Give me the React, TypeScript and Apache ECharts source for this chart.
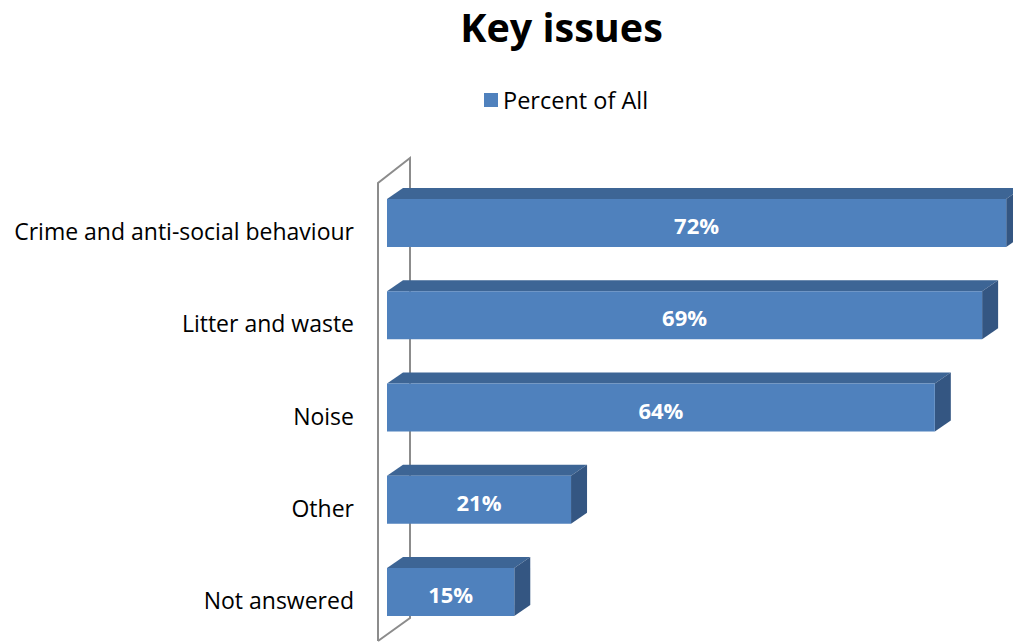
import React, { useEffect, useRef } from "react";
import * as echarts from "echarts";

const categories = [
  "Crime and anti-social behaviour",
  "Litter and waste",
  "Noise",
  "Other",
  "Not answered",
];
const percentOfAll = [72.0, 69.2, 63.7, 21.4, 14.8];
const seriesName = "Percent of All";
const titleText = "Key issues";

const FONT = "'Open Sans', sans-serif";

export default function App() {
  const ref = useRef<HTMLDivElement>(null);

  useEffect(() => {
    if (!ref.current) return;
    const chart = echarts.init(ref.current, null, { renderer: "svg" });
    const DX = 16;
    const DY = -11;
    const HALF = 24;

    chart.setOption({
      animation: false,
      backgroundColor: "#ffffff",
      title: {
        text: titleText,
        left: 561.5,
        top: 7,
        textAlign: "center",
        padding: 0,
        textStyle: {
          fontSize: 39.5,
          fontWeight: "bold",
          color: "#000000",
          fontFamily: FONT,
        },
      },
      legend: {
        data: [seriesName],
        left: 484,
        top: 88,
        padding: 0,
        itemWidth: 14,
        itemHeight: 14,
        icon: "rect",
        textStyle: { fontSize: 23.5, color: "#000000", fontFamily: FONT },
      },
      grid: {
        left: 387,
        top: 176.9,
        width: 619.2,
        height: 461.25,
        containLabel: false,
      },
      xAxis: { type: "value", min: 0, max: 72, show: false },
      yAxis: {
        type: "category",
        data: categories,
        inverse: true,
        axisLine: { show: false },
        axisTick: { show: false },
        splitLine: { show: false },
        axisLabel: {
          margin: 33,
          fontSize: 23,
          color: "#000000",
          fontFamily: FONT,
          verticalAlign: "top",
          lineHeight: 16,
        },
      },
      graphic: [
        {
          type: "polyline",
          z: 0,
          silent: true,
          shape: {
            points: [
              [378, 641],
              [378, 183],
              [410, 158],
              [410, 618],
              [378, 641],
            ],
          },
          style: { stroke: "#8c8c8c", lineWidth: 2, fill: null },
        },
      ],
      series: [
        {
          type: "custom",
          name: "depth",
          silent: true,
          z: 3,
          clip: false,
          data: percentOfAll.map((v, i) => [v, i]),
          encode: { x: 0, y: 1 },
          renderItem: (params: any, api: any) => {
            const p0 = api.coord([0, api.value(1)]);
            const p1 = api.coord([api.value(0), api.value(1)]);
            const cy = p0[1];
            const x0 = p0[0];
            const x1 = p1[0];
            const top = cy - HALF;
            const bot = cy + HALF;
            return {
              type: "group",
              children: [
                {
                  type: "polygon",
                  shape: {
                    points: [
                      [x0, top],
                      [x1, top],
                      [x1 + DX, top + DY],
                      [x0 + DX, top + DY],
                    ],
                  },
                  style: { fill: "#3d6595" },
                },
                {
                  type: "polygon",
                  shape: {
                    points: [
                      [x1, top],
                      [x1 + DX, top + DY],
                      [x1 + DX, bot + DY],
                      [x1, bot],
                    ],
                  },
                  style: { fill: "#345682" },
                },
              ],
            };
          },
        },
        {
          type: "bar",
          name: seriesName,
          data: percentOfAll,
          barWidth: 48,
          z: 4,
          itemStyle: { color: "#4f81bd" },
          label: {
            show: true,
            position: "inside",
            color: "#ffffff",
            fontWeight: "bold",
            fontSize: 22,
            fontFamily: FONT,
            offset: [0, 2],
            formatter: (p: any) => Math.round(p.value) + "%",
          },
        },
      ],
    });

    return () => {
      chart.dispose();
    };
  }, []);

  return (
    <div
      ref={ref}
      style={{ position: "absolute", left: 0, top: 0, width: 1013, height: 642 }}
    />
  );
}
